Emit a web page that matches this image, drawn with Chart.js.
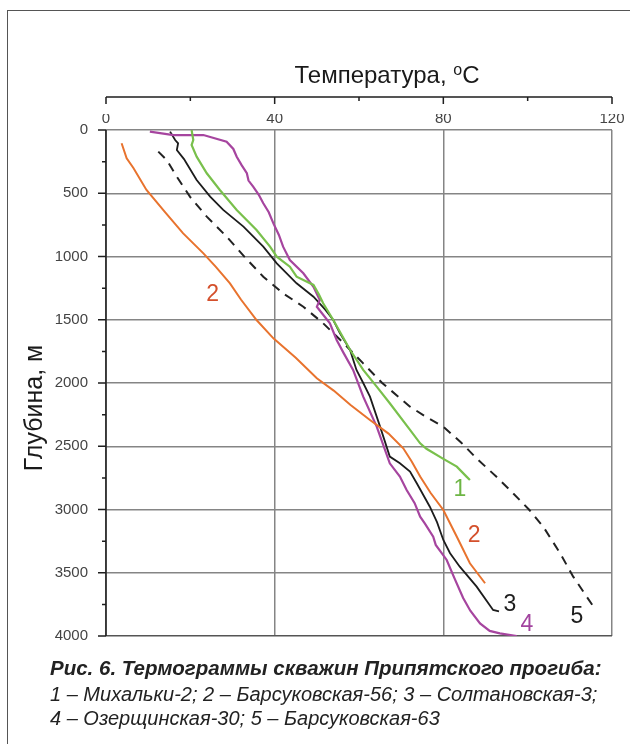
<!DOCTYPE html>
<html lang="ru">
<head>
<meta charset="utf-8">
<title>Термограммы скважин Припятского прогиба</title>
<script src="https://cdn.jsdelivr.net/npm/chart.js@4.4.1/dist/chart.umd.min.js"></script>
<style>
    body { margin: 0; background: #fff; }
    .page { position: relative; width: 630px; height: 744px; overflow: hidden; font-family: "Liberation Sans", Arial, sans-serif; color: #222; }
    .frame { position: absolute; left: 7px; top: 10px; width: 660px; height: 780px; border: 1.5px solid #555; }
    #thermoChart { position: absolute; left: 0; top: 0; }
    .axis-title { position: absolute; left: 237px; width: 300px; top: 63px; text-align: center; font-size: 24px; line-height: 24px; color: #1a1a1a; }
    .axis-title sup { font-size: 16px; vertical-align: 0; position: relative; top: -8px; }
    .caption { position: absolute; left: 50px; top: 654px; white-space: nowrap; }
    .caption .head { font-weight: bold; font-style: italic; font-size: 20.5px; line-height: 28px; }
    .caption .item { font-style: italic; font-size: 20px; line-height: 24px; }
</style>
</head>
<body>
<div class="page">
    <div class="frame"></div>
    <canvas id="thermoChart" width="630" height="744"></canvas>
    <div class="axis-title">Температура, <sup>o</sup>C</div>
    <div class="caption">
        <div class="head">Рис. 6. Термограммы скважин Припятского прогиба:</div>
        <div class="item">1 – Михальки-2; 2 – Барсуковская-56; 3 – Солтановская-3;</div>
        <div class="item">4 – Озерщинская-30; 5 – Барсуковская-63</div>
    </div>
</div>
<script>
// 1 - Михальки-2
const well1Temp  = [20.3, 20.7, 20.3, 21.5, 23.9, 27, 31, 35.7, 38.9, 40.5, 43.6, 45.2, 49.2, 50.5, 51.5, 53.9, 57.9, 61, 64.2, 67.3, 72.1, 74.5, 76, 80, 83.2, 85.5, 86.3];
const well1Depth = [0, 79, 119, 211, 342, 474, 632, 790, 922, 1001, 1081, 1160, 1225, 1300, 1370, 1502, 1739, 1897, 2029, 2160, 2371, 2477, 2520, 2600, 2661, 2740, 2767];

// 2 - Барсуковская-56
const well2Temp  = [3.7, 4.9, 6.5, 9.6, 14, 18.3, 23.1, 26, 29.4, 32, 35.7, 39.7, 45, 50, 54, 58, 62.6, 67, 70.5, 72.5, 74.5, 77, 80, 83.2, 86.3, 89.9];
const well2Depth = [105, 224, 300, 474, 650, 817, 975, 1080, 1212, 1340, 1502, 1647, 1800, 1963, 2060, 2174, 2292, 2400, 2516, 2620, 2740, 2870, 3004, 3215, 3425, 3583];

// 3 - Солтановская-3
const well3Temp  = [15.2, 16.4, 17.1, 16.8, 18.5, 19.1, 21.5, 24.7, 27.8, 32.6, 37.3, 40.5, 45.2, 49.2, 52, 53.9, 55.5, 57.9, 59.4, 61, 62.6, 65, 67.3, 69.7, 72.1, 73.7, 76.8, 78.5, 80, 81.6, 83.9, 87.9, 91.8, 93.2];
const well3Depth = [13, 79, 105, 158, 230, 263, 395, 527, 632, 764, 922, 1054, 1212, 1318, 1420, 1502, 1607, 1740, 1897, 2000, 2108, 2345, 2582, 2635, 2700, 2793, 2978, 3100, 3241, 3346, 3452, 3610, 3794, 3805];

// 4 - Озерщинская-30
const well4Temp  = [10.4, 16, 23.1, 28.6, 30.2, 31, 32.2, 33.4, 33.8, 34.9, 36.2, 37.3, 38.6, 39.7, 41, 42, 43.6, 46.8, 49.2, 50.7, 50, 53.1, 54.7, 56.3, 58.6, 61, 64.2, 67.3, 69.7, 71.3, 73.2, 74.5, 75.6, 77.6, 78.2, 80.8, 82.6, 84.7, 86.4, 88.7, 91, 93.4, 97.4];
const well4Depth = [13, 40, 40, 92, 150, 211, 280, 342, 400, 448, 510, 579, 650, 738, 830, 922, 1028, 1133, 1239, 1344, 1397, 1528, 1660, 1760, 1897, 2108, 2345, 2635, 2740, 2846, 2950, 3057, 3110, 3215, 3280, 3399, 3540, 3700, 3800, 3900, 3960, 3979, 4000];

// 5 - Барсуковская-63
const well5Temp  = [12.4, 14.4, 16.8, 19.9, 23.9, 28.6, 32.8, 37.3, 42, 46.8, 51.5, 56.5, 61, 65.5, 72.1, 76, 80, 84.2, 88, 92.6, 96.5, 100.3, 103.7, 107.7, 110.8, 114, 115.6];
const well5Depth = [171, 237, 369, 527, 685, 843, 1001, 1160, 1291, 1397, 1528, 1690, 1845, 2000, 2187, 2270, 2345, 2470, 2600, 2741, 2870, 3000, 3136, 3346, 3531, 3689, 3768];

// curve numbers placed next to the lines (temperature, depth)
const curveNames  = ['1', '2', '3', '4', '5', '2'];
const curveNameT  = [83.9, 87.3, 95.8, 99.8, 111.7, 25.3];
const curveNameD  = [2846, 3209, 3755, 3913, 3850, 1304];
const curveNameColors = ['#6db544', '#d4502c', '#1e1e1e', '#a2449f', '#1e1e1e', '#d4502c'];

const depthTicks = [0, 500, 1000, 1500, 2000, 2500, 3000, 3500, 4000];
const tempTicks  = [0, 40, 80, 120];

const FONT = '"Liberation Sans", Arial, sans-serif';

function toPoints(temps, depths) {
    return temps.map((t, i) => ({ x: t, y: depths[i] }));
}

function wellLine(temps, depths, color, width, dash) {
    return {
        data: toPoints(temps, depths),
        showLine: true,
        borderColor: color,
        borderWidth: width,
        borderDash: dash || [],
        pointRadius: 0,
        tension: 0,
        fill: false
    };
}

// axis lines, small ticks, curve numbers and the depth title
const decorPlugin = {
    id: 'decor',
    afterDraw(chart) {
        const { ctx, chartArea: a, scales: { x, y } } = chart;
        ctx.save();
        ctx.strokeStyle = '#1e1e1e';
        ctx.lineWidth = 1.5;

        ctx.beginPath();
        ctx.moveTo(a.left, a.top);
        ctx.lineTo(a.left, a.bottom);
        for (let d = 0; d <= 4000; d += 250) {
            const py = y.getPixelForValue(d);
            ctx.moveTo(a.left - (d % 500 === 0 ? 8 : 4), py);
            ctx.lineTo(a.left, py);
        }
        ctx.stroke();

        const ay = a.top - 33;
        ctx.beginPath();
        ctx.moveTo(x.getPixelForValue(0), ay);
        ctx.lineTo(x.getPixelForValue(120), ay);
        for (let t = 0; t <= 120; t += 20) {
            const px = x.getPixelForValue(t);
            ctx.moveTo(px, ay);
            ctx.lineTo(px, ay + (t % 40 === 0 ? 7 : 4));
        }
        ctx.stroke();

        ctx.font = '23px ' + FONT;
        ctx.textAlign = 'center';
        ctx.textBaseline = 'middle';
        curveNames.forEach((name, i) => {
            ctx.fillStyle = curveNameColors[i];
            ctx.fillText(name, x.getPixelForValue(curveNameT[i]), y.getPixelForValue(curveNameD[i]));
        });

        ctx.fillStyle = '#1a1a1a';
        ctx.font = '25px ' + FONT;
        ctx.translate(35, 408);
        ctx.rotate(-Math.PI / 2);
        ctx.fillText('Глубина, м', 0, 0);
        ctx.restore();
    }
};

const chart = new Chart(document.getElementById('thermoChart'), {
    type: 'scatter',
    data: {
        datasets: [
            wellLine(well2Temp, well2Depth, '#e8732e', 2),
            wellLine(well1Temp, well1Depth, '#79c04c', 2.2),
            wellLine(well4Temp, well4Depth, '#a6459f', 2.2),
            wellLine(well3Temp, well3Depth, '#1c1c1c', 1.8),
            wellLine(well5Temp, well5Depth, '#222222', 2, [9, 7])
        ]
    },
    options: {
        responsive: false,
        animation: false,
        layout: { padding: { left: 20, right: 18, top: 114, bottom: 108 } },
        plugins: {
            legend: { display: false },
            tooltip: { enabled: false }
        },
        scales: {
            x: {
                type: 'linear',
                position: 'top',
                min: 0,
                max: 120,
                afterBuildTicks: (scale) => { scale.ticks = tempTicks.map(v => ({ value: v })); },
                afterFit: (scale) => { scale.height = 16; },
                ticks: { padding: 2, color: '#444', font: { family: FONT, size: 15 }, callback: (v) => String(v) },
                grid: { color: '#858585', lineWidth: 1.5, drawTicks: false },
                border: { display: false }
            },
            y: {
                type: 'linear',
                reverse: true,
                min: 0,
                max: 4000,
                afterBuildTicks: (scale) => { scale.ticks = depthTicks.map(v => ({ value: v })); },
                afterFit: (scale) => { scale.width = 86; },
                ticks: { padding: 18, color: '#444', font: { family: FONT, size: 15 }, callback: (v) => String(v) },
                grid: {
                    color: (c) => (c.tick && c.tick.value === 4000 ? '#555' : '#858585'),
                    lineWidth: 1.5,
                    drawTicks: false
                },
                border: { display: false }
            }
        }
    },
    plugins: [decorPlugin]
});
</script>
</body>
</html>
